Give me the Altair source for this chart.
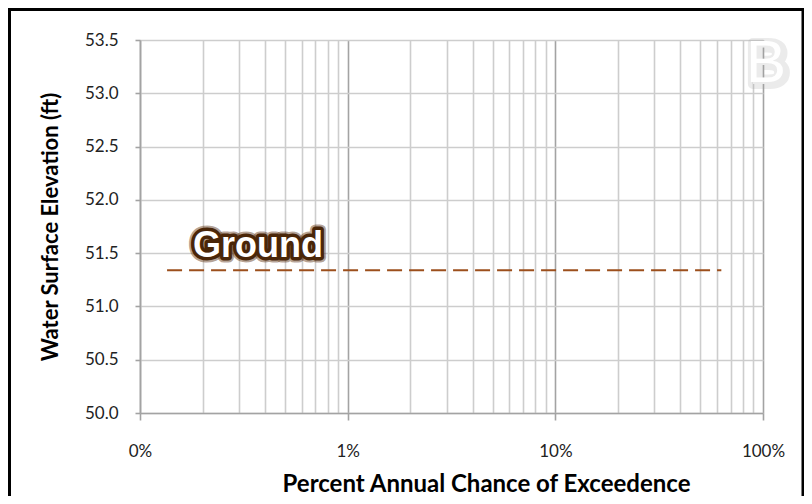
import altair as alt
import pandas as pd

# ---- data ----
ground_x = [0.135, 63.0]          # percent annual chance
ground_y = [51.34, 51.34]         # ft
label_text = ["Ground"]
label_x = [0.37]
label_y = [51.57]
panel_letter = ["B"]

x_ticks = [0.1, 0.2, 0.3, 0.4, 0.5, 0.6, 0.7, 0.8, 0.9,
           1, 2, 3, 4, 5, 6, 7, 8, 9,
           10, 20, 30, 40, 50, 60, 70, 80, 90, 100]
y_ticks = [50.0, 50.5, 51.0, 51.5, 52.0, 52.5, 53.0, 53.5]

ground_df = pd.DataFrame({"p": ground_x, "elev": ground_y})
label_df = pd.DataFrame({"p": label_x, "elev": label_y, "t": label_text})
letter_df = pd.DataFrame({"t": panel_letter})

FONT = "Lato"
decade_test = "indexof([0.1, 1, 10, 100], datum.value) >= 0"

x_scale = alt.Scale(type="log", domain=[0.1, 100], nice=False)
y_scale = alt.Scale(domain=[50, 53.5], nice=False, zero=False)

x_axis = alt.Axis(
    values=x_ticks,
    labelExpr="datum.value == 0.1 ? '0%' : (indexof([1, 10, 100], datum.value) >= 0 ? datum.value + '%' : '')",
    grid=True,
    gridColor={"condition": {"test": decade_test, "value": "#a3a3a3"}, "value": "#cdcdcd"},
    gridWidth=1.6,
    tickColor={"condition": {"test": decade_test, "value": "#a3a3a3"}, "value": "transparent"},
    tickSize=7,
    tickWidth=1.6,
    domainColor="#a3a3a3",
    domainWidth=1.6,
    labelFont=FONT, labelFontSize=17, labelColor="#222222",
    labelPadding=23, labelOverlap=False, labelFlush=False,
    title="Percent Annual Chance of Exceedence",
    titleFont=FONT, titleFontSize=24, titleFontWeight="bold", titleColor="#000000",
    titleX=346, titleY=78, titleAnchor="start", titleAlign="center",
    titleBaseline="alphabetic",
)

y_axis = alt.Axis(
    values=y_ticks, format=".1f",
    grid=True, gridColor="#cdcdcd", gridWidth=1.6,
    tickColor="#a3a3a3", tickSize=5, tickWidth=1.6,
    domainColor="#a3a3a3", domainWidth=1.6,
    labelFont=FONT, labelFontSize=17, labelColor="#222222", labelPadding=17,
    title="Water Surface Elevation (ft)",
    titleFont=FONT, titleFontSize=22, titleFontWeight="bold", titleColor="#000000",
    titlePadding=22,
)

base_line = alt.Chart(ground_df).mark_line(
    color="#9c4f1c", strokeWidth=2, strokeDash=[15, 7]
).encode(
    x=alt.X("p:Q", scale=x_scale, axis=x_axis),
    y=alt.Y("elev:Q", scale=y_scale, axis=y_axis),
)

glow_outer = alt.Chart(label_df).mark_text(
    font="Liberation Sans", fontSize=36, fontWeight="bold",
    fill="#4a2608", stroke="#5a3010", strokeWidth=11, strokeOpacity=0.45,
    strokeJoin="round", baseline="middle", align="center",
).encode(x=alt.X("p:Q", scale=x_scale), y=alt.Y("elev:Q", scale=y_scale), text="t:N")

glow_inner = alt.Chart(label_df).mark_text(
    font="Liberation Sans", fontSize=36, fontWeight="bold",
    fill="#4a2608", stroke="#4a2608", strokeWidth=7,
    strokeJoin="round", baseline="middle", align="center",
).encode(x=alt.X("p:Q", scale=x_scale), y=alt.Y("elev:Q", scale=y_scale), text="t:N")

label_top = alt.Chart(label_df).mark_text(
    font="Liberation Sans", fontSize=36, fontWeight="bold",
    fill="#ffffff", baseline="middle", align="center",
).encode(x=alt.X("p:Q", scale=x_scale), y=alt.Y("elev:Q", scale=y_scale), text="t:N")

letter_shadow = alt.Chart(letter_df).mark_text(
    font="Liberation Sans", fontSize=60, fill="#ffffff",
    stroke="#9a9a9a", strokeWidth=10, strokeOpacity=0.2, strokeJoin="round",
    baseline="middle", align="center", dx=2, dy=2,
).encode(x=alt.value(626), y=alt.value(24), text="t:N")

letter_top = alt.Chart(letter_df).mark_text(
    font="Liberation Sans", fontSize=60, fill="#ffffff",
    baseline="middle", align="center",
).encode(x=alt.value(626), y=alt.value(24), text="t:N")

frame = alt.Chart(alt.Data(values=[{}])).mark_rect(
    fill="transparent", stroke="#000000", strokeWidth=3, clip=False
).encode(
    x=alt.value(-130.5), x2=alt.value(663), y=alt.value(-30.5), y2=alt.value(480)
)

chart = alt.layer(
    base_line, glow_outer, glow_inner, label_top,
    letter_shadow, letter_top, frame
).properties(
    width=623, height=373,
    autosize=alt.AutoSizeParams(type="none"),
    padding={"left": 132, "top": 32, "right": 41, "bottom": 83},
    background="#ffffff",
).configure_view(stroke=None)

chart.save("out.html", embed_options={"renderer": "svg", "actions": False})
